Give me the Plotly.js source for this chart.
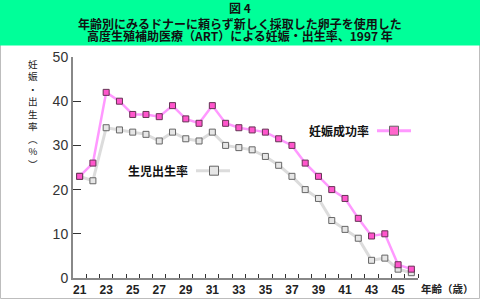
<!DOCTYPE html>
<html>
<head>
<meta charset="utf-8">
<script src="https://cdn.plot.ly/plotly-3.0.1.min.js"></script>
<style>html,body{margin:0;padding:0;background:#fff;}#chart{width:480px;height:300px;}</style>
</head>
<body>
<div id="chart"></div>
<script>
const ages = [21,22,23,24,25,26,27,28,29,30,31,32,33,34,35,36,37,38,39,40,41,42,43,44,45,46];
const pregnancyRate = [23,26,42,40,37,37,36.5,39,36,35,39,35,34,33.5,33,31.5,30,26,23,20,18,13.5,9.5,10,3,2];
const liveBirthRate = [23,22,34,33.5,33,32.5,31,33,31.5,31,33,30,29.5,29,27.5,25.5,23,20,18,13,11,9,4,4.5,2,1.2];
const xTickVals = [21,23,25,27,29,31,33,35,37,39,41,43,45];
const xTickText = ["21","23","25","27","29","31","33","35","37","39","41","43","45"];
const yTickVals = [0,10,20,30,40,50];
const seriesNames = ["妊娠成功率","生児出生率"];
const titleLines = ["図 4","年齢別にみるドナーに頼らず新しく採取した卵子を使用した","高度生殖補助医療（ART）による妊娠・出生率、1997 年"];
const yLabelChars = ["妊","娠","・","出","生","率","︵","%","︶"];
const xAxisLabel = "年齢（歳）";

const L = 73, R = 62, T = 57, B = 22, W = 480, H = 300;
const PW = W - L - R, PH = H - T - B;
const px = x => (x - L) / PW;
const py = y => (H - B - y) / PH;

const cjk = '"Noto Sans CJK JP", "Noto Sans", sans-serif';
const narrow = '"Liberation Sans Narrow", "Liberation Sans", Arial, sans-serif';

const minorTicks = [];
for (let i = 0; i < ages.length; i++) minorTicks.push(ages[i] + 0.5);

const traces = [
  {
    x: ages, y: liveBirthRate, name: seriesNames[1], type: 'scatter', mode: 'lines+markers',
    line: {color: '#dcdcdc', width: 3},
    marker: {symbol: 'square', size: 6, color: '#e6e6e6', line: {color: '#666666', width: 1}},
    cliponaxis: false
  },
  {
    x: ages, y: pregnancyRate, name: seriesNames[0], type: 'scatter', mode: 'lines+markers',
    line: {color: '#ff99ff', width: 2.5},
    marker: {symbol: 'square', size: 6, color: '#ff55cc', line: {color: '#663355', width: 1}},
    cliponaxis: false
  }
];

const annotations = [];
// Title lines
const titleY = [7.5, 23.5, 36];
titleLines.forEach((t, i) => {
  annotations.push({xref: 'paper', yref: 'paper', x: px(240), y: py(titleY[i]), xanchor: 'center', yanchor: 'middle',
    showarrow: false, text: t, font: {family: cjk, size: 12, color: '#111', weight: 'bold'}});
});
// Y label (vertical, one character per line)
annotations.push({xref: 'paper', yref: 'paper', x: px(33), y: py(114), xanchor: 'center', yanchor: 'middle',
  showarrow: false, text: yLabelChars.join('<br>'), align: 'center',
  font: {family: cjk, size: 9.6, color: '#222'}});
// X axis label
annotations.push({xref: 'paper', yref: 'paper', x: px(419), y: py(288.5), xanchor: 'left', yanchor: 'middle',
  showarrow: false, text: xAxisLabel, font: {family: cjk, size: 10.5, color: '#222', weight: 'bold'}});
// Legend labels
annotations.push({xref: 'paper', yref: 'paper', x: px(371), y: py(130.7), xanchor: 'right', yanchor: 'middle',
  showarrow: false, text: seriesNames[0], font: {family: cjk, size: 12, color: '#111', weight: 'bold'}});
annotations.push({xref: 'paper', yref: 'paper', x: px(190), y: py(170.7), xanchor: 'right', yanchor: 'middle',
  showarrow: false, text: seriesNames[1], font: {family: cjk, size: 12, color: '#111', weight: 'bold'}});

const shapes = [
  // outer border
  {type: 'rect', xref: 'paper', yref: 'paper', x0: px(0.5), x1: px(479.5), y0: py(0.5), y1: py(298.5),
    line: {color: '#bdbdbd', width: 1}, fillcolor: 'rgba(0,0,0,0)', layer: 'below'},
  // title band
  {type: 'rect', xref: 'paper', yref: 'paper', x0: px(0), x1: px(480), y0: py(0), y1: py(45.5),
    line: {width: 0}, fillcolor: '#00ff99', layer: 'below'},
  // legend sample: pregnancy
  {type: 'line', xref: 'paper', yref: 'paper', x0: px(377), x1: px(411), y0: py(130.7), y1: py(130.7),
    line: {color: '#ff99ff', width: 3}},
  {type: 'rect', xref: 'paper', yref: 'paper', x0: px(389.5), x1: px(398.5), y0: py(126.2), y1: py(135.2),
    line: {color: '#666666', width: 1}, fillcolor: '#ff66cc'},
  // legend sample: live birth
  {type: 'line', xref: 'paper', yref: 'paper', x0: px(196), x1: px(230), y0: py(170.7), y1: py(170.7),
    line: {color: '#dcdcdc', width: 3}},
  {type: 'rect', xref: 'paper', yref: 'paper', x0: px(209.5), x1: px(218.5), y0: py(166.2), y1: py(175.2),
    line: {color: '#666666', width: 1}, fillcolor: '#e6e6e6'}
];

const layout = {
  width: W, height: H,
  margin: {l: L, r: R, t: T, b: B, pad: 0},
  paper_bgcolor: '#ffffff', plot_bgcolor: '#ffffff',
  showlegend: false,
  xaxis: {
    range: [20.5, 46.5], showgrid: false, zeroline: false,
    showline: true, linecolor: '#888888', linewidth: 2,
    tickmode: 'array', tickvals: xTickVals, ticktext: xTickText, ticks: '',
    tickfont: {family: narrow, size: 12, color: '#222', weight: 'bold'},
    minor: {tickmode: 'array', tickvals: minorTicks, ticks: 'inside', ticklen: 4, tickwidth: 1, tickcolor: '#333', showgrid: false}
  },
  yaxis: {
    range: [0, 50], showgrid: false, zeroline: false,
    showline: true, linecolor: '#888888', linewidth: 2,
    tickmode: 'array', tickvals: yTickVals, ticks: 'inside', ticklen: 8, tickwidth: 1, tickcolor: '#333',
    tickfont: {family: narrow, size: 14, color: '#333'}
  },
  shapes: shapes,
  annotations: annotations
};

Plotly.newPlot('chart', traces, layout, {staticPlot: true, displayModeBar: false});
</script>
</body>
</html>
